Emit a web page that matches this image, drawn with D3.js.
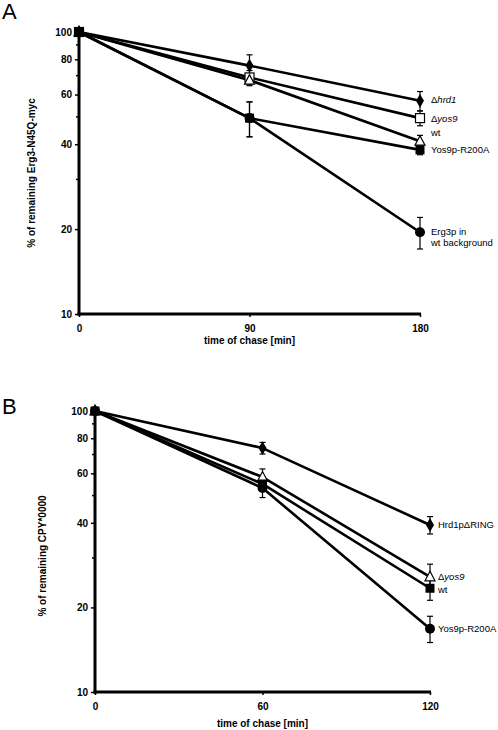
<!DOCTYPE html>
<html><head><meta charset="utf-8">
<script src="https://cdn.jsdelivr.net/npm/d3@7"></script>
<style>body{margin:0;background:#fff}svg{display:block}text{font-family:Arial,"Liberation Sans",sans-serif}</style>
</head><body><svg id="c" width="498" height="730"></svg>
<script>
// ---------- Panel A data ----------
const timesA = [0, 90, 180];
const seriesA = ["Erg3p", "hrd1", "yos9", "wt", "R200A"];
const markersA = ["circle", "diamond", "openSquare", "openTriangle", "square"];
const valuesA = [
  [100, 49.5, 19.5],
  [100, 76, 57],
  [100, 69, 49.5],
  [100, 67.5, 41],
  [100, 49.5, 38.2]
];
const errorsA = [
  [0, 7, 2.5],
  [0, 7, 4.5],
  [0, 4, 3],
  [0, 3, 2],
  [0, 7, 1.5]
];
// label parts: [text, italic]
const labelsA = [
  [[["Erg3p in", false]], [["wt background", false]]],
  [[["\u0394", false], ["hrd1", true]]],
  [[["\u0394", false], ["yos9", true]]],
  [[["wt", false]]],
  [[["Yos9p-R200A", false]]]
];
const labelDyA = [-1, -1, 0, -9, 0];
const yTicksA = [10, 20, 40, 60, 80, 100];
const yMinorA = [30, 50, 70, 90];
const xTitleA = "time of chase [min]";
const yTitleA = "% of remaining Erg3-N45Q-myc";

// ---------- Panel B data ----------
const timesB = [0, 60, 120];
const seriesB = ["R200A", "yos9", "ring", "wt"];
const markersB = ["circle", "openTriangle", "diamond", "square"];
const valuesB = [
  [100, 53.2, 16.8],
  [100, 58.2, 25.7],
  [100, 73.8, 39.3],
  [100, 55, 23.4]
];
const errorsB = [
  [0, 4, 1.8],
  [0, 4, 2.8],
  [0, 3.5, 2.8],
  [0, 3, 2.2]
];
const labelsB = [
  [[["Yos9p-R200A", false]]],
  [[["\u0394", false], ["yos9", true]]],
  [[["Hrd1p\u0394RING", false]]],
  [[["wt", false]]]
];
const labelDyB = [0, 0, 0, 1];
const yTicksB = [10, 20, 40, 60, 80, 100];
const yMinorB = [30, 50, 70, 90];
const xTitleB = "time of chase [min]";
const yTitleB = "% of remaining CPY*0000";

const svg = d3.select("#c");

function marker(g, type, x, y) {
  if (type === "circle") {
    g.append("circle").attr("cx", x).attr("cy", y).attr("r", 5).attr("fill", "#000");
  } else if (type === "diamond") {
    g.append("path").attr("d", d3.symbol(d3.symbolDiamond, 55)()).attr("transform", `translate(${x},${y})`).attr("fill", "#000");
  } else if (type === "openSquare") {
    g.append("rect").attr("x", x - 4.5).attr("y", y - 4.5).attr("width", 9).attr("height", 9).attr("fill", "#fff").attr("stroke", "#000").attr("stroke-width", 1.2);
  } else if (type === "openTriangle") {
    g.append("path").attr("d", `M${x},${y - 5.5}L${x + 5},${y + 4}L${x - 5},${y + 4}Z`).attr("fill", "#fff").attr("stroke", "#000").attr("stroke-width", 1.2);
  } else if (type === "square") {
    g.append("rect").attr("x", x - 4.5).attr("y", y - 4.5).attr("width", 9).attr("height", 9).attr("fill", "#000");
  }
}

function panel(opt) {
  const g = svg.append("g");
  const x = d3.scaleLinear().domain([opt.times[0], opt.times[opt.times.length - 1]]).range([opt.x0, opt.x1]);
  const y = d3.scaleLog().domain([10, 100]).range([opt.y1, opt.y0]);

  // axes
  const yAxis = d3.axisLeft(y).tickValues(opt.yTicks).tickFormat(d3.format("d")).tickSize(4).tickPadding(3);
  const ya = g.append("g").attr("transform", `translate(${opt.x0},0)`).call(yAxis);
  ya.select(".domain").remove();
  ya.selectAll(".tick line").attr("stroke-width", 1.5);
  ya.selectAll("text").attr("font-size", 10).attr("font-weight", "bold").attr("fill", "#000");
  g.selectAll(".minor").data(opt.yMinor).join("line").attr("class", "minor")
    .attr("x1", opt.x0 - 3).attr("x2", opt.x0).attr("y1", d => y(d)).attr("y2", d => y(d)).attr("stroke", "#000").attr("stroke-width", 1.5);

  const xAxis = d3.axisBottom(x).tickValues(opt.times).tickSize(3).tickPadding(8);
  const xa = g.append("g").attr("transform", `translate(0,${opt.y1})`).call(xAxis);
  xa.select(".domain").remove();
  xa.selectAll(".tick line").attr("stroke-width", 1.5);
  xa.selectAll("text").attr("font-size", 10).attr("font-weight", "bold").attr("fill", "#000");

  g.append("line").attr("x1", opt.x0).attr("x2", opt.x0).attr("y1", opt.y0 - 1).attr("y2", opt.y1 + 1.5).attr("stroke", "#000").attr("stroke-width", 3);
  g.append("line").attr("x1", opt.x0 - 1.5).attr("x2", opt.x1 + 1).attr("y1", opt.y1).attr("y2", opt.y1).attr("stroke", "#000").attr("stroke-width", 3);

  // titles
  g.append("text").attr("x", (opt.x0 + opt.x1) / 2).attr("y", opt.xTitleY).attr("text-anchor", "middle")
    .attr("font-size", 10).attr("font-weight", "bold").text(opt.xTitle);
  g.append("text").attr("transform", `translate(${opt.yTitleX},${opt.yTitleYc}) rotate(-90)`).attr("text-anchor", "middle")
    .attr("font-size", 10).attr("font-weight", "bold").text(opt.yTitle);
  g.append("text").attr("x", 2).attr("y", opt.letterY).attr("font-size", 22).text(opt.letter);

  const line = d3.line().x((d, i) => x(opt.times[i])).y(d => y(d));
  // lines
  opt.values.forEach(v => {
    g.append("path").attr("d", line(v)).attr("fill", "none").attr("stroke", "#000").attr("stroke-width", 2.6).attr("stroke-linejoin", "round");
  });
  // error bars
  opt.values.forEach((v, s) => {
    v.forEach((d, i) => {
      const e = opt.errors[s][i];
      if (!e) return;
      const cx = x(opt.times[i]);
      const yt = y(d + e), yb = y(d - e);
      g.append("line").attr("x1", cx).attr("x2", cx).attr("y1", yt).attr("y2", yb).attr("stroke", "#000").attr("stroke-width", 1.2);
      [yt, yb].forEach(yy => g.append("line").attr("x1", cx - 3).attr("x2", cx + 3).attr("y1", yy).attr("y2", yy).attr("stroke", "#000").attr("stroke-width", 1.2));
    });
  });
  // markers
  opt.values.forEach((v, s) => {
    v.forEach((d, i) => marker(g, opt.markers[s], x(opt.times[i]), y(d)));
  });
  // labels
  opt.values.forEach((v, s) => {
    const last = v[v.length - 1];
    const lx = x(opt.times[opt.times.length - 1]) + opt.labelDx;
    const lines = opt.labels[s];
    lines.forEach((parts, li) => {
      const t = g.append("text").attr("x", lx).attr("y", y(last) + 3.5 + opt.labelDy[s] + li * 11).attr("font-size", 9.5);
      parts.forEach(p => t.append("tspan").attr("font-style", p[1] ? "italic" : "normal").text(p[0]));
    });
  });
}

panel({
  times: timesA, values: valuesA, errors: errorsA, markers: markersA, labels: labelsA, labelDy: labelDyA,
  yTicks: yTicksA, yMinor: yMinorA, xTitle: xTitleA, yTitle: yTitleA,
  x0: 79, x1: 420, y0: 32, y1: 314, xTitleY: 344, yTitleX: 35, yTitleYc: 173, letter: "A", letterY: 19, labelDx: 11
});
panel({
  times: timesB, values: valuesB, errors: errorsB, markers: markersB, labels: labelsB, labelDy: labelDyB,
  yTicks: yTicksB, yMinor: yMinorB, xTitle: xTitleB, yTitle: yTitleB,
  x0: 95, x1: 430, y0: 411, y1: 692, xTitleY: 727, yTitleX: 46, yTitleYc: 556, letter: "B", letterY: 414, labelDx: 8
});
</script></body></html>
